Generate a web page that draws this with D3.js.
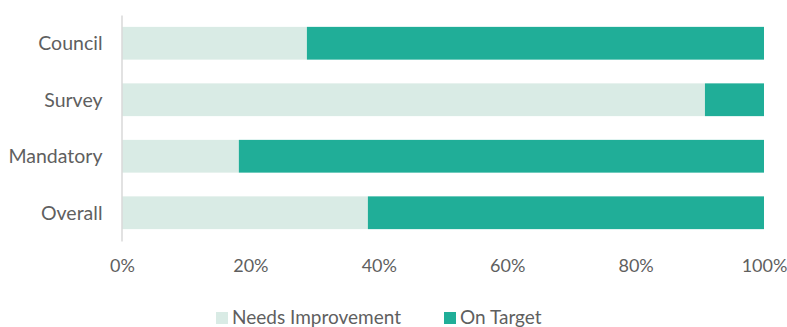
<!DOCTYPE html>
<html>
<head>
<meta charset="utf-8">
<script src="https://cdn.jsdelivr.net/npm/d3@7"></script>
<style>
  html, body { margin: 0; padding: 0; background: #ffffff; }
  svg { display: block; }
  text { font-family: Lato, "Open Sans", sans-serif; fill: #5f5f5f; }
</style>
</head>
<body>
<svg id="chart" width="787" height="327"></svg>
<script>
// Share of items per area, in percent
const categories = ["Council", "Survey", "Mandatory", "Overall"];
const needsImprovement = [28.8, 90.8, 18.2, 38.3];
const onTarget = [71.2, 9.2, 81.8, 61.7];
const seriesNames = ["Needs Improvement", "On Target"];
const seriesColors = ["#d9ebe5", "#20ae98"];
const tickValues = [0, 20, 40, 60, 80, 100];

const svg = d3.select("#chart");

const x = d3.scaleLinear().domain([0, 100]).range([122, 764]);
const y = d3.scaleBand().domain(categories).range([15, 241])
  .paddingInner(0.42).paddingOuter(0.21);

const rows = categories.map((c, i) => ({
  category: c,
  "Needs Improvement": needsImprovement[i],
  "On Target": onTarget[i]
}));
const stacked = d3.stack().keys(seriesNames)(rows);

// Stacked bars
svg.append("g").selectAll("g")
  .data(stacked)
  .join("g")
  .attr("fill", (d, i) => seriesColors[i])
  .selectAll("rect")
  .data(d => d)
  .join("rect")
  .attr("x", d => x(d[0]))
  .attr("width", d => x(d[1]) - x(d[0]))
  .attr("y", d => y(d.data.category))
  .attr("height", y.bandwidth());

// Category axis
const yAxis = svg.append("g")
  .attr("transform", "translate(121.5,0)")
  .call(d3.axisLeft(y).tickSize(0).tickPadding(19));
yAxis.select(".domain").attr("stroke", "#d9d9d9").attr("stroke-width", 1.5);
yAxis.selectAll("text")
  .attr("font-size", 19.5)
  .attr("dy", "0.35em")
  .style("font-family", "Lato, sans-serif")
  .attr("fill", "#5f5f5f");

// Value axis labels
const xAxis = svg.append("g")
  .attr("transform", "translate(0,241)")
  .call(d3.axisBottom(x).tickValues(tickValues).tickSize(0).tickPadding(0)
    .tickFormat(d => d + "%"));
xAxis.select(".domain").remove();
xAxis.selectAll("text")
  .attr("y", 31)
  .attr("dy", 0)
  .attr("font-size", 18)
  .style("font-family", "Lato, sans-serif")
  .attr("fill", "#5f5f5f");

// Legend
const legendX = [216, 444];
const legend = svg.append("g").selectAll("g")
  .data(seriesNames)
  .join("g")
  .attr("transform", (d, i) => `translate(${legendX[i]},0)`);
legend.append("rect")
  .attr("x", 0).attr("y", 312)
  .attr("width", 12).attr("height", 12)
  .attr("fill", (d, i) => seriesColors[i]);
legend.append("text")
  .attr("x", 16).attr("y", 323.5)
  .attr("font-size", 19)
  .text(d => d);
</script>
</body>
</html>
